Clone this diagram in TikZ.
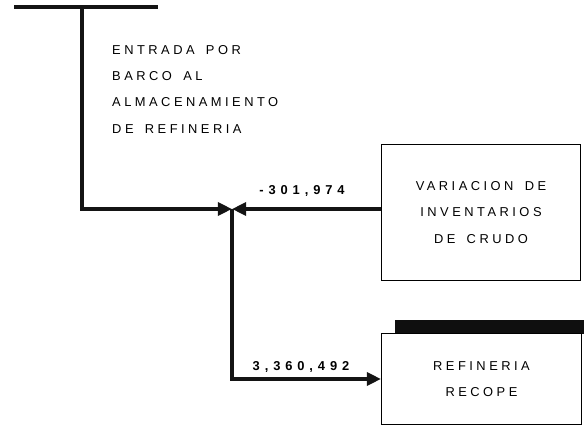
\documentclass[tikz,border=0pt]{standalone}
\usepackage{fontspec}
\setmainfont{Liberation Sans}
\newfontfamily\spacedfont[LetterSpace=27,WordSpace=1.6]{Liberation Sans}
\newfontfamily\figurefont[LetterSpace=38]{Liberation Sans}
\usepackage{tikz}
\usetikzlibrary{arrows.meta}
\definecolor{flowblack}{RGB}{20,20,20}
\definecolor{shadeblack}{RGB}{15,15,15}

\begin{document}
\begin{tikzpicture}[x=0.03cm,y=-0.03cm,
  every node/.style={font=\spacedfont\fontsize{11}{22.5}\selectfont,align=center},
  flow/.style={line width=0.12cm,draw=flowblack},
  tip/.style={-{Triangle[length=12pt,width=11pt]}},
  stockbox/.style={draw,line width=0.03cm,fill=white,inner sep=0pt}]
  \useasboundingbox (0,0) rectangle (584,429);
  \coordinate (barstart) at (14,7);
  \coordinate (barend) at (158,7);
  \coordinate (drop) at (82,7);
  \coordinate (junc) at (232,209);
  \node[stockbox,minimum width=5.97cm,minimum height=4.05cm] (variacion) at (481,212.5)
    {VARIACION DE\\INVENTARIOS\\DE CRUDO};
  \fill[shadeblack] (395,320) rectangle (584,334);
  \node[stockbox,minimum width=6cm,minimum height=2.73cm] (refineria) at (481.5,379)
    {REFINERIA\\RECOPE};
  \node[anchor=north west,align=left,inner sep=0pt] (entrada) at (112,45)
    {ENTRADA POR\\BARCO AL\\ALMACENAMIENTO\\DE REFINERIA};
  \node[font=\figurefont\bfseries\fontsize{11}{13}\selectfont] (lblvar) at (302,191) {-301,974};
  \node[font=\figurefont\bfseries\fontsize{11}{13}\selectfont] (lblref) at (301,367) {3,360,492};
  \draw[flow] (barstart) -- (barend);
  \draw[flow,tip] (drop) |- (junc);
  \draw[flow,tip] (variacion.west |- junc) -- (junc);
  \draw[flow,tip] (junc) |- (refineria.west);
\end{tikzpicture}
\end{document}
